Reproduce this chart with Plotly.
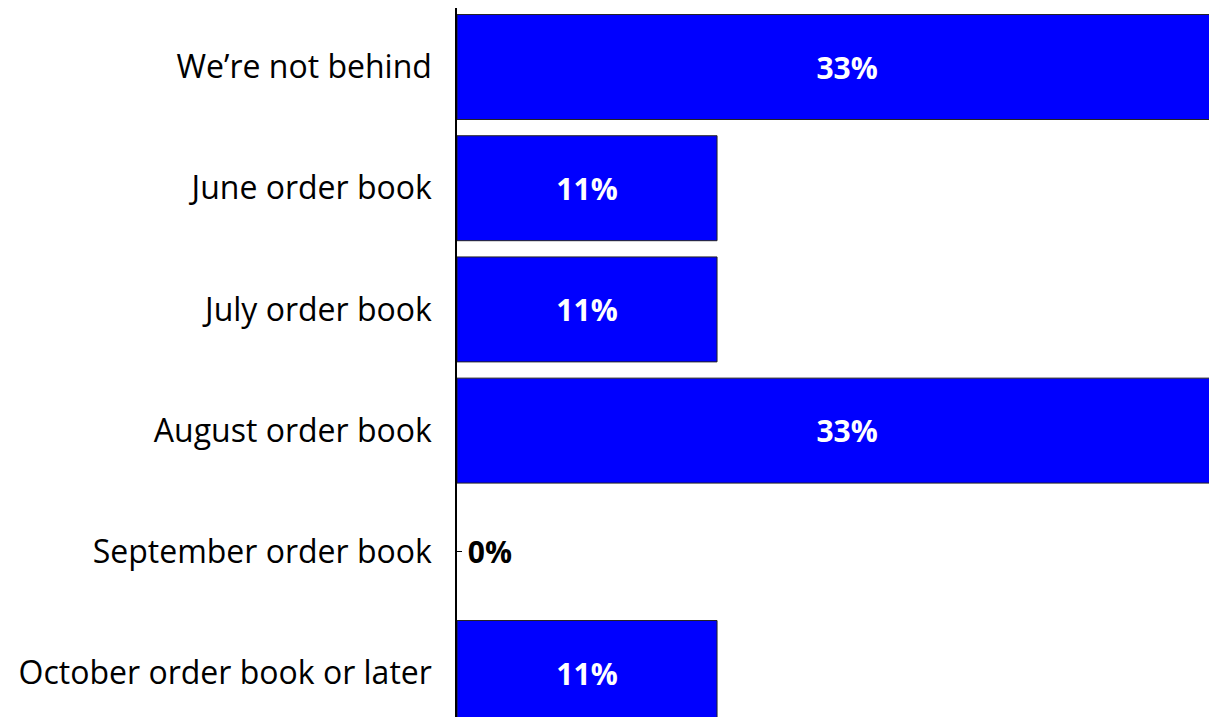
import plotly.graph_objects as go

categories = ["We’re not behind", "June order book", "July order book",
              "August order book", "September order book", "October order book or later"]
values = [33.3, 11.1, 11.1, 33.3, 0.0, 11.1]
labels = ["33%", "11%", "11%", "33%", "0%", "11%"]

FONT = "Open Sans"
text_pos = ["outside" if v == 0 else "inside" for v in values]
text_col = ["black" if v == 0 else "white" for v in values]
line_w = [0 if v == 0 else 1 for v in values]
shown = [("\u00a0" + t) if v == 0 else t for t, v in zip(labels, values)]

fig = go.Figure(go.Bar(
    x=values, y=categories, orientation="h",
    marker=dict(color="#0000FF", line=dict(color="#222222", width=line_w)),
    text=shown, textposition=text_pos, insidetextanchor="middle",
    textfont=dict(family=FONT, size=30, color=text_col, weight="bold"),
    outsidetextfont=dict(family=FONT, size=30, color="black", weight="bold"),
    constraintext="none", cliponaxis=True,
    width=0.866,
))

# page body has an 8px default margin; figure sized to fill the window exactly
fig.update_layout(
    width=1201, height=709,
    margin=dict(l=449, r=0, t=0, b=0, autoexpand=False),
    plot_bgcolor="white", paper_bgcolor="white",
    showlegend=False,
    font=dict(family=FONT, size=32, color="black"),
    xaxis=dict(range=[0, 32.1], visible=False, showgrid=False, zeroline=False,
               automargin=False),
    yaxis=dict(
        categoryorder="array", categoryarray=categories[::-1],
        range=[-0.363, 5.487], showline=True, linecolor="black", linewidth=1.5,
        ticks="inside", ticklen=5, tickcolor="black", tickwidth=1,
        ticklabelstandoff=17, showgrid=False, automargin=False,
        layer="below traces",
        tickfont=dict(family=FONT, size=32, color="black"),
    ),
)

fig.write_html("out.html")
